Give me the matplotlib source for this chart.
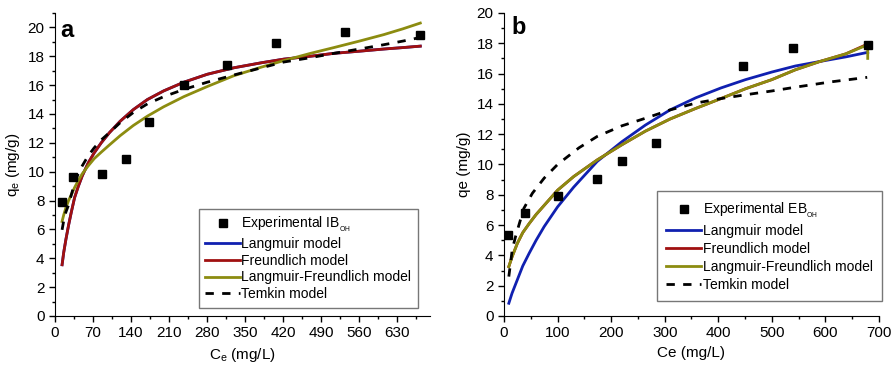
import numpy as np
import matplotlib.pyplot as plt
from matplotlib.ticker import MultipleLocator

plt.rcParams['font.family'] = ['Liberation Sans', 'DejaVu Sans']
plt.rcParams['mathtext.fontset'] = 'custom'
plt.rcParams['mathtext.rm'] = 'Liberation Sans'
plt.rcParams['mathtext.it'] = 'Liberation Sans'

# ----------------- panel a: IB_OH -----------------
exp_a_x = [12, 34, 86, 131, 172, 238, 316, 406, 533, 671]
exp_a_y = [7.9, 9.63, 9.84, 10.88, 13.45, 16.04, 17.38, 18.9, 19.7, 19.47]

ce_a = [13, 16, 20, 25, 30, 36, 43, 50, 61, 72, 85, 100, 120, 144, 170, 200,
        237, 280, 329, 380, 421, 470, 513, 560, 605, 640, 672]
fr_a_y = [3.55, 4.4, 5.3, 6.3, 7.2, 8.2, 9.0, 9.7, 10.6, 11.3, 12.0, 12.7, 13.5, 14.3, 15.0, 15.6,
          16.2, 16.75, 17.2, 17.55, 17.8, 18.0, 18.2, 18.35, 18.5, 18.6, 18.7]
# Langmuir lies under the Freundlich curve in panel a
lg_a_y = fr_a_y
lf_a_y = [6.55, 7.0, 7.5, 8.0, 8.4, 8.9, 9.4, 9.85, 10.4, 10.9, 11.35, 11.85, 12.5, 13.2, 13.85, 14.5,
          15.2, 15.9, 16.65, 17.25, 17.7, 18.2, 18.6, 19.05, 19.5, 19.9, 20.3]
tk_a_y = [5.97, 6.6, 7.2, 7.7, 8.4, 9.2, 9.9, 10.4, 11.1, 11.65, 12.2, 12.7, 13.4, 14.1, 14.7, 15.2,
          15.7, 16.2, 16.7, 17.2, 17.6, 17.9, 18.2, 18.5, 18.8, 19.05, 19.3]

# ----------------- panel b: EB_OH -----------------
exp_b_x = [7.5, 40, 100, 174, 220, 284, 447, 540, 680]
exp_b_y = [5.35, 6.78, 7.89, 9.05, 10.2, 11.4, 16.5, 17.7, 17.9]

ce_b = [9, 15, 25, 35, 47, 60, 75, 100, 130, 174, 220, 264, 310, 358, 405,
        451, 500, 544, 590, 638, 679]
lg_b_y = [0.84, 1.5, 2.4, 3.3, 4.14, 5.0, 5.9, 7.2, 8.5, 10.2, 11.5, 12.6, 13.6, 14.4, 15.05,
          15.6, 16.1, 16.5, 16.8, 17.1, 17.4]
fr_b_y = [3.26, 3.9, 4.8, 5.5, 6.1, 6.7, 7.3, 8.3, 9.2, 10.3, 11.3, 12.2, 13.0, 13.7, 14.35,
          15.0, 15.6, 16.25, 16.8, 17.3, 17.95]
lf_b_x = ce_b + [679]
lf_b_y = [3.26, 3.9, 4.8, 5.5, 6.1, 6.7, 7.3, 8.3, 9.2, 10.3, 11.3, 12.2, 13.0, 13.7, 14.35,
          15.0, 15.6, 16.25, 16.8, 17.3, 17.9, 17.0]
tk_b_x = [9, 15.5, 22, 37, 53, 75, 100, 140, 174, 220, 264, 310, 358, 405, 451, 500, 544, 610, 678]
tk_b_y = [2.6, 4.4, 5.3, 7.1, 8.1, 9.1, 10.0, 11.1, 11.85, 12.55, 13.05, 13.6, 14.05, 14.35,
          14.6, 14.85, 15.1, 15.45, 15.75]

blue = '#1020b0'
red = '#a01010'
olive = '#8c8c10'

fig = plt.figure(figsize=(8.96, 3.70), dpi=100)
ax1 = fig.add_axes([0.0614, 0.146, 0.4186, 0.819])
ax2 = fig.add_axes([0.5625, 0.146, 0.4185, 0.819])


def style(ax, xmaj, xmin_, xlim, ylim):
    ax.spines['top'].set_visible(False)
    ax.spines['right'].set_visible(False)
    ax.set_xlim(*xlim)
    ax.set_ylim(*ylim)
    ax.xaxis.set_major_locator(MultipleLocator(xmaj))
    ax.xaxis.set_minor_locator(MultipleLocator(xmin_))
    ax.yaxis.set_major_locator(MultipleLocator(2))
    ax.yaxis.set_minor_locator(MultipleLocator(1))
    ax.tick_params(which='major', direction='out', length=4, width=1, labelsize=11)
    ax.tick_params(which='minor', direction='out', length=2.5, width=1)


leg_kw = dict(fontsize=10, frameon=True, fancybox=False, edgecolor='#555555', handlelength=2.5,
              handletextpad=0.1)

# panel a
ax1.plot(ce_a, lg_a_y, color=blue, lw=2, label='Langmuir model')
ax1.plot(ce_a, fr_a_y, color=red, lw=2, label='Freundlich model')
ax1.plot(ce_a, lf_a_y, color=olive, lw=2, label='Langmuir-Freundlich model')
ax1.plot(ce_a, tk_a_y, color='black', lw=2, ls=(0, (3, 3)), label='Temkin model')
ax1.plot(exp_a_x, exp_a_y, 's', color='black', ms=5.5, label=r'Experimental IB$_{\mathregular{_{OH}}}$')
style(ax1, 70, 35, (0, 690), (0, 21))
ax1.set_xlabel(r'C$_{\mathregular{e}}$ (mg/L)', fontsize=11)
ax1.set_ylabel(r'q$_{\mathregular{e}}$ (mg/g)', fontsize=11)
ax1.text(0.015, 0.98, 'a', transform=ax1.transAxes, fontsize=17, fontweight='bold', va='top', ha='left')
h, l = ax1.get_legend_handles_labels()
ax1.legend([h[4]] + h[:4], [l[4]] + l[:4], loc='lower right', bbox_to_anchor=(0.985, 0.005),
           labelspacing=0.2, borderpad=0.45, **leg_kw)

# panel b
ax2.plot(ce_b, lg_b_y, color=blue, lw=2, label='Langmuir model')
ax2.plot(ce_b, fr_b_y, color=red, lw=2, label='Freundlich model')
ax2.plot(lf_b_x, lf_b_y, color=olive, lw=2, label='Langmuir-Freundlich model')
ax2.plot(tk_b_x, tk_b_y, color='black', lw=2, ls=(0, (3, 3)), label='Temkin model')
ax2.plot(exp_b_x, exp_b_y, 's', color='black', ms=5.5, label=r'Experimental EB$_{\mathregular{_{OH}}}$')
style(ax2, 100, 50, (0, 700), (0, 20))
ax2.set_xlabel('Ce (mg/L)', fontsize=11)
ax2.set_ylabel('qe (mg/g)', fontsize=11)
ax2.text(0.02, 0.99, 'b', transform=ax2.transAxes, fontsize=17, fontweight='bold', va='top', ha='left')
h, l = ax2.get_legend_handles_labels()
ax2.legend([h[4]] + h[:4], [l[4]] + l[:4], loc='lower right', bbox_to_anchor=(1.018, 0.035),
           labelspacing=0.3, borderpad=0.65, borderaxespad=0.3, **leg_kw)

fig.savefig('out.png', dpi=100)
